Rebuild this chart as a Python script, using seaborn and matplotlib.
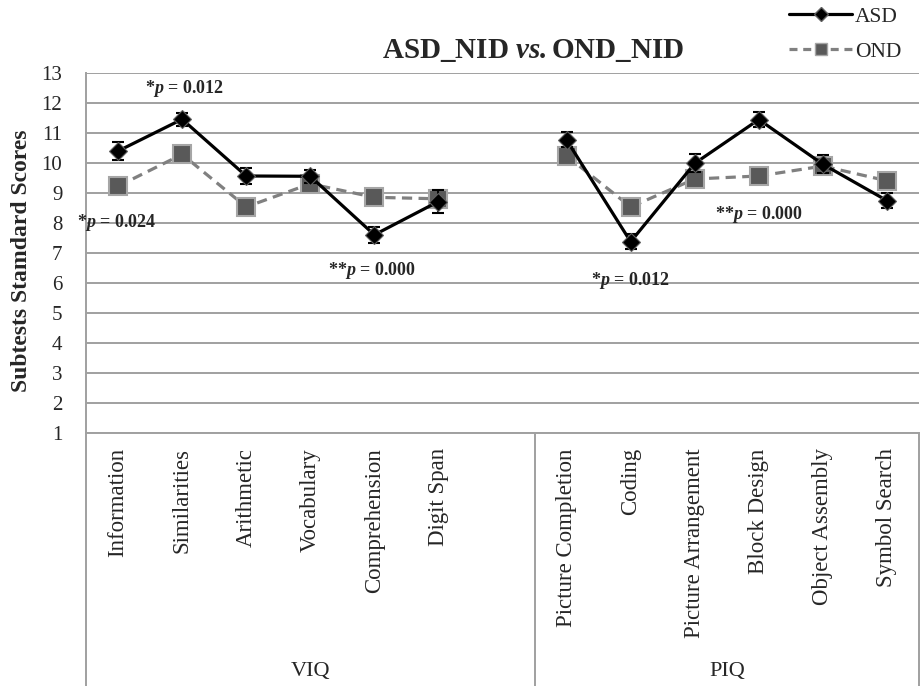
import numpy as np
import pandas as pd
import matplotlib
matplotlib.use("Agg")
from matplotlib import pyplot as plt
from matplotlib.lines import Line2D
import seaborn as sns

# WISC subtests (blank slot separates the VIQ and PIQ blocks)
subtests = ["Information", "Similarities", "Arithmetic", "Vocabulary", "Comprehension", "Digit Span", "",
            "Picture Completion", "Coding", "Picture Arrangement", "Block Design", "Object Assembly",
            "Symbol Search"]
domains = ["VIQ", "VIQ", "VIQ", "VIQ", "VIQ", "VIQ", "VIQ",
           "PIQ", "PIQ", "PIQ", "PIQ", "PIQ", "PIQ"]
asd = [10.39, 11.45, 9.56, 9.55, 7.60, 8.71, np.nan, 10.76, 7.37, 9.98, 11.44, 9.95, 8.74]
asd_err = [0.29, 0.22, 0.28, 0.22, 0.27, 0.38, np.nan, 0.25, 0.25, 0.30, 0.24, 0.30, 0.26]
ond = [9.22, 10.28, 8.53, 9.30, 8.85, 8.80, np.nan, 10.23, 8.53, 9.46, 9.56, 9.89, 9.40]
ond_err = [0.28, 0.28, 0.28, 0.28, 0.28, 0.28, np.nan, 0.28, 0.28, 0.28, 0.28, 0.28, 0.28]

# p-value notes: (text, x slot, y score)
notes = [("*$\\mathbfit{p}$ = 0.012", 1.04, 12.49),
         ("*$\\mathbfit{p}$ = 0.024", -0.02, 8.0),
         ("**$\\mathbfit{p}$ = 0.000", 3.97, 6.42),
         ("*$\\mathbfit{p}$ = 0.012", 8.0, 6.09),
         ("**$\\mathbfit{p}$ = 0.000", 10.0, 8.29)]

sns.set_style("white")
plt.rcParams["font.family"] = ["Liberation Serif", "DejaVu Serif"]
plt.rcParams["mathtext.fontset"] = "custom"
plt.rcParams["mathtext.rm"] = "Liberation Serif"
plt.rcParams["mathtext.it"] = "Liberation Serif:italic"
plt.rcParams["mathtext.bf"] = "Liberation Serif:bold"
plt.rcParams["mathtext.bfit"] = "Liberation Serif:italic:bold"

pos = np.arange(len(subtests))
df = pd.concat([
    pd.DataFrame({"pos": pos, "score": asd, "err": asd_err, "group": "ASD", "domain": domains}),
    pd.DataFrame({"pos": pos, "score": ond, "err": ond_err, "group": "OND", "domain": domains}),
]).dropna()

fig = plt.figure(figsize=(9.22, 6.86), dpi=100)
ax = fig.add_axes([86 / 922, 1 - 433 / 686, (919 - 86) / 922, (433 - 72.7) / 686])

grid_col = "#a0a0a0"
ax.set_ylim(1, 13)
ax.set_xlim(-0.5, 12.5)
ax.set_yticks(range(1, 14))
ax.yaxis.grid(True, color=grid_col, lw=1.4)
ax.set_axisbelow(True)

# error bars
ond_df = df[df.group == "OND"]
asd_df = df[df.group == "ASD"]
ax.errorbar(ond_df.pos, ond_df.score, yerr=ond_df.err, fmt="none", ecolor="#404040",
            elinewidth=1.2, capsize=4, capthick=1.2, zorder=2)
ax.errorbar(asd_df.pos, asd_df.score, yerr=asd_df.err, fmt="none", ecolor="black",
            elinewidth=1.3, capsize=4, capthick=1.5, zorder=4)

sns.lineplot(data=df, x="pos", y="score", hue="group", style="group", units="domain",
             estimator=None, sort=False, palette={"ASD": "black", "OND": "#808080"},
             dashes={"ASD": "", "OND": (3.2, 2.0)}, markers={"ASD": "D", "OND": "s"},
             lw=2.3, legend=False, ax=ax)

for ln in ax.lines:
    c = matplotlib.colors.to_hex(ln.get_color())
    if c == "#000000":
        ln.set_markersize(9.5)
        ln.set_markerfacecolor("black")
        ln.set_markeredgecolor("#606060")
        ln.set_markeredgewidth(0.8)
        ln.set_zorder(5)
    elif c == "#808080":
        ln.set_markersize(12.5)
        ln.set_markerfacecolor("#595959")
        ln.set_markeredgecolor("#a6a6a6")
        ln.set_markeredgewidth(1.5)
        ln.set_zorder(3)

for txt, x, y in notes:
    ax.text(x, y, txt, ha="center", va="center", fontsize=13, fontweight="bold", zorder=6)

# axes styling
for side in ["top", "right"]:
    ax.spines[side].set_visible(False)
for side in ["left", "bottom"]:
    ax.spines[side].set_color(grid_col)
    ax.spines[side].set_linewidth(1.4)
ax.set_xticks(pos)
ax.set_xticklabels(subtests, rotation=90, fontsize=16.5)
ax.tick_params(axis="x", length=0, pad=11)
ax.tick_params(axis="y", length=0, pad=17, labelsize=15)
ax.set_xlabel("")
ax.set_ylabel("")

# category box below the axis
trans = ax.get_xaxis_transform()
for x in [-0.5, 6.5, 12.5]:
    ax.plot([x, x], [0, -0.71], transform=trans, color=grid_col, lw=1.4, clip_on=False)
ax.text(3, -0.663, "VIQ", transform=trans, ha="center", va="center", fontsize=16)
ax.text(9.5, -0.663, "PIQ", transform=trans, ha="center", va="center", fontsize=16)

fig.text(22 / 922, 1 - 261 / 686, "Subtests Stamdard Scores", rotation=90, ha="center",
         va="center", fontsize=17, fontweight="bold")
fig.text(533 / 922, 1 - 51 / 686, "ASD_NID $\\mathbfit{vs.}$OND_NID", ha="center",
         va="center", fontsize=21, fontweight="bold")

handles = [Line2D([], [], color="black", lw=2.3, marker="D", markersize=7,
                  markerfacecolor="black", markeredgecolor="#606060"),
           Line2D([], [], color="#808080", lw=2.3, ls=(0, (2.5, 1.8)), marker="s", markersize=9,
                  markerfacecolor="#595959", markeredgecolor="#a6a6a6")]
fig.legend(handles, ["ASD", "OND"], loc="upper left", bbox_to_anchor=(783 / 922, 1.0),
           frameon=False, fontsize=15.5, handlelength=2.9, handletextpad=0.15,
           labelspacing=0.7, borderaxespad=0.2, borderpad=0.1)

fig.savefig("out.png", dpi=100)
